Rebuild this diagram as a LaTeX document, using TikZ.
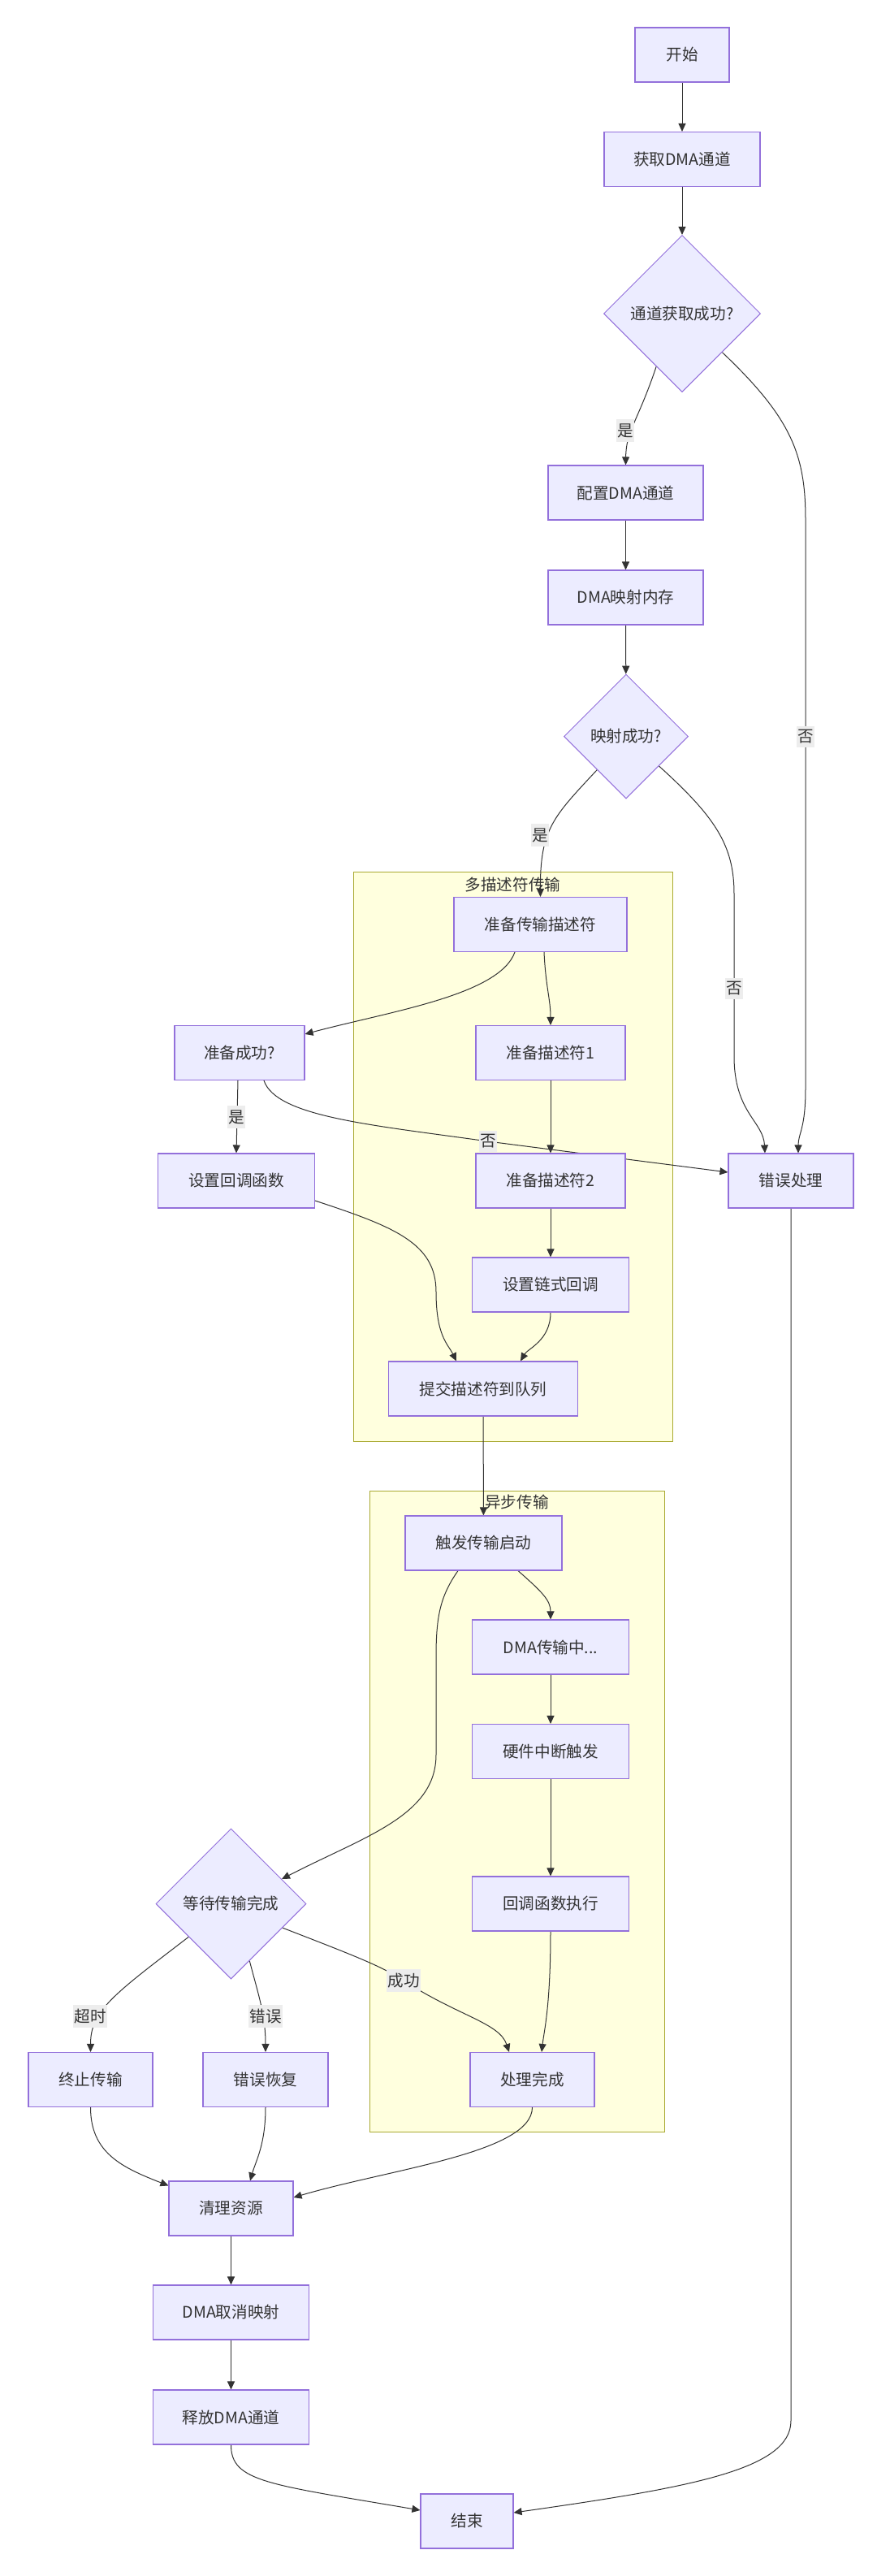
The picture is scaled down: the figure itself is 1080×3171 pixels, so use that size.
\documentclass[tikz,border=0pt]{standalone}
\usepackage{fontspec}
\setmainfont{Noto Sans CJK SC}
\usetikzlibrary{shapes.geometric,arrows.meta,calc}
\definecolor{nodefill}{HTML}{ECECFF}
\definecolor{nodeline}{HTML}{9370DB}
\definecolor{clfill}{HTML}{FFFFDE}
\definecolor{clline}{HTML}{AAAA33}
\definecolor{edgecol}{HTML}{333333}
\definecolor{txtcol}{HTML}{333333}
\definecolor{lblbg}{HTML}{EDEDED}
\pgfdeclarelayer{bglayer}
\pgfdeclarelayer{edgelayer}
\pgfsetlayers{bglayer,edgelayer,main}
\begin{document}
\begin{tikzpicture}[x=0.5pt,y=-0.5pt,
  every node/.style={font=\fontsize{9.8pt}{12pt}\selectfont, text=txtcol},
  box/.style={draw=nodeline, fill=nodefill, line width=0.55pt, minimum height=33.5pt, inner sep=0pt, minimum width=#1},
  dia/.style={diamond, draw=nodeline, fill=nodefill, line width=0.5pt, inner sep=0pt, minimum width=#1, minimum height=#1},
  edge/.style={draw=edgecol, line width=0.5pt, -{Triangle[length=5pt,width=4.5pt]}},
  lbl/.style={fill=lblbg, inner xsep=0.5pt, inner ysep=2.5pt},
  cluster/.style={draw=clline, fill=clfill, line width=0.5pt}
]
\useasboundingbox (0,0) rectangle (1080,3171);
\begin{pgfonlayer}{bglayer}
\fill[white] (0,0) rectangle (1080,3171);
\draw[cluster] (435,1073) rectangle (828,1774);
\node (cl1title) at (631.5,1089) {多描述符传输};
\draw[cluster] (455,1835) rectangle (818,2624);
\node (cl2title) at (636.5,1849) {异步传输};
\end{pgfonlayer}

% nodes
\node[box=58pt]   (start)   at (840,67.5)    {开始};
\node[box=96pt]   (get)     at (840,196)     {获取DMA通道};
\node[dia=96.5pt] (d1)      at (840,386)     {通道获取成功?};
\node[box=95.5pt] (cfg)     at (770.5,606.5) {配置DMA通道};
\node[box=95.5pt] (map)     at (770.5,735.5) {DMA映射内存};
\node[dia=76.5pt] (d2)      at (771,906.5)   {映射成功?};
\node[box=106.5pt](prep)    at (665.5,1138)  {准备传输描述符};
\node[box=80pt]   (prepok)  at (295,1296)    {准备成功?};
\node[box=92pt]   (desc1)   at (678,1296)    {准备描述符1};
\node[box=96.5pt] (setcb)   at (291,1453.5)  {设置回调函数};
\node[box=92pt]   (desc2)   at (678,1453.5)  {准备描述符2};
\node[box=77pt]   (err)     at (974,1453.5)  {错误处理};
\node[box=96.5pt] (chain)   at (678,1581.5)  {设置链式回调};
\node[box=116.5pt](submit)  at (595,1709.5)  {提交描述符到队列};
\node[box=96.5pt] (trig)    at (595.5,1899.5){触发传输启动};
\node[box=96.5pt] (inprog)  at (678,2027.5)  {DMA传输中...};
\node[box=96.5pt] (hwirq)   at (678,2156)    {硬件中断触发};
\node[box=96.5pt] (cbexec)  at (678,2343.5)  {回调函数执行};
\node[dia=92.5pt] (wait)    at (284.5,2343.5){等待传输完成};
\node[box=76.5pt] (abort)   at (111.5,2560)  {终止传输};
\node[box=77pt]   (recover) at (327,2560)    {错误恢复};
\node[box=76.5pt] (done)    at (655.5,2560)  {处理完成};
\node[box=76.5pt] (clean)   at (284.5,2718.5){清理资源};
\node[box=96pt]   (unmap)   at (284.5,2846.5){DMA取消映射};
\node[box=96pt]   (release) at (284.5,2975.5){释放DMA通道};
\node[box=57pt]   (end)     at (575,3103.5)  {结束};

\begin{pgfonlayer}{edgelayer}
\draw[edge] (start) -- (get);
\draw[edge] (get) -- (d1);
\draw[edge] (d1.-116) .. controls (785,520) and (771,530) .. (cfg.north);
\draw[edge] (d1.-44) .. controls (975,515) and (992,560) .. (992,640) -- (992,1340) .. controls (992,1390) and (983,1395) .. ($(err.north)+(9,0)$);
\draw[edge] (cfg) -- (map);
\draw[edge] (map) -- (d2);
\draw[edge] (d2.-131) .. controls (682,1005) and (665,1020) .. (prep.north);
\draw[edge] (d2.-42) .. controls (880,1005) and (904,1040) .. (904,1100) -- (904,1300) .. controls (904,1370) and (940,1380) .. ($(err.north)+(-32,0)$);
\draw[edge] ($(prep.south)+(-31.5,0)$) .. controls (615,1225) and (480,1245) .. ($(prepok.north east)+(0,11)$);
\draw[edge] ($(prep.south)+(4.5,0)$) .. controls (672,1215) and (678,1230) .. (desc1.north);
\draw[edge] (desc1) -- (desc2);
\draw[edge] (desc2) -- (chain);
\draw[edge] ($(prepok.south)+(-2,0)$) -- (setcb.north);
\draw[edge] ($(prepok.south)+(30,0)$) .. controls (340,1375) and (460,1385) .. (601,1405) -- ($(err.west)+(0,-10.5)$);
\draw[edge] ($(setcb.east)+(0,24.5)$) .. controls (485,1510) and (537,1530) .. (537,1590) .. controls (537,1645) and (552,1655) .. ($(submit.north)+(-33,0)$);
\draw[edge] (chain.south) .. controls (678,1650) and (650,1660) .. ($(submit.north)+(46,0)$);
\draw[edge] (submit) -- (trig);
\draw[edge] ($(trig.south)+(42.5,0)$) .. controls (668,1960) and (678,1970) .. (inprog.north);
\draw[edge] ($(trig.south)+(-31.5,0)$) .. controls (542,1965) and (537,1990) .. (537,2040) -- (537,2160) .. controls (537,2235) and (450,2260) .. (wait.26);
\draw[edge] (inprog) -- (hwirq);
\draw[edge] (hwirq) -- (cbexec);
\draw[edge] (cbexec.south) .. controls (678,2470) and (670,2500) .. ($(done.north)+(11.5,0)$);
\draw[edge] (wait.-142) .. controls (140,2455) and (111.5,2475) .. (abort.north);
\draw[edge] (wait.-72) .. controls (318,2455) and (327,2480) .. (recover.north);
\draw[edge] (wait.-25) .. controls (430,2405) and (470,2420) .. (497,2438) .. controls (565,2482) and (615,2490) .. ($(done.north)+(-28.5,0)$);
\draw[edge] (abort.south) .. controls (111.5,2650) and (150,2668) .. ($(clean.north west)+(0,6)$);
\draw[edge] (recover.south) .. controls (327,2640) and (315,2660) .. ($(clean.north)+(23.5,0)$);
\draw[edge] (done.south) .. controls (655.5,2650) and (480,2670) .. ($(clean.east)+(0,-13.5)$);
\draw[edge] (clean) -- (unmap);
\draw[edge] (unmap) -- (release);
\draw[edge] (release.south) .. controls (284.5,3055) and (330,3058) .. ($(end.west)+(0,-13.5)$);
\draw[edge] (err.south) -- (974,2980) .. controls (974,3040) and (850,3062) .. ($(end.east)+(0,-10.5)$);
\end{pgfonlayer}

% edge labels
\node[lbl] (l1) at (770,530)   {是};
\node[lbl] (l2) at (992,907)   {否};
\node[lbl] (l3) at (665,1028)  {是};
\node[lbl] (l4) at (904,1217)  {否};
\node[lbl] (l5) at (291,1375)  {是};
\node[lbl] (l6) at (601,1405)  {否};
\node[lbl] (l7) at (111,2482)  {超时};
\node[lbl] (l8) at (327,2482)  {错误};
\node[lbl] (l9) at (497,2438)  {成功};
\end{tikzpicture}
\end{document}
